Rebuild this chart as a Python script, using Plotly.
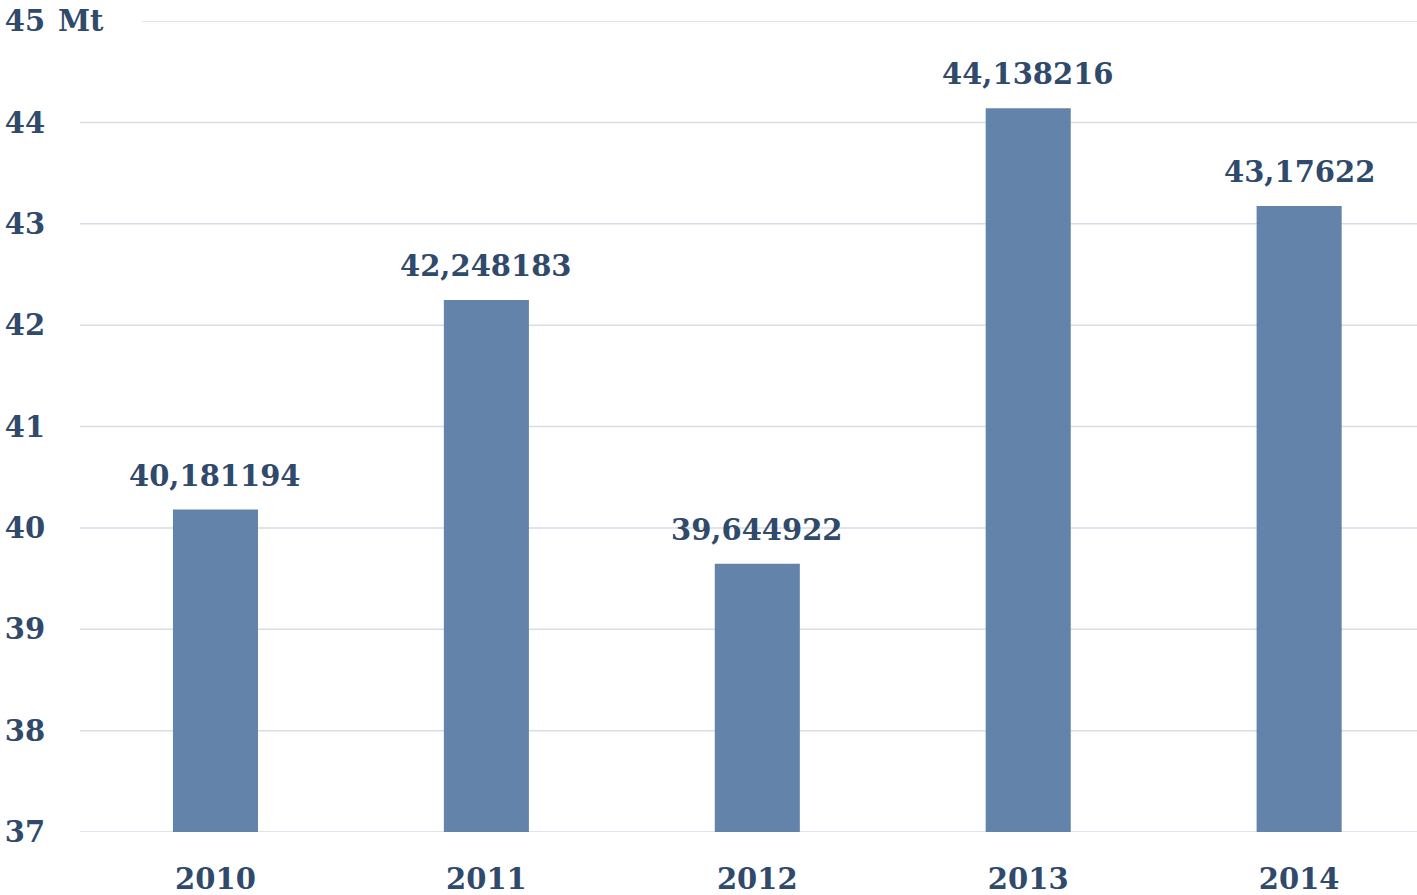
import plotly.graph_objects as go

years = ["2010", "2011", "2012", "2013", "2014"]
values = [40.181194, 42.248183, 39.644922, 44.138216, 43.17622]
value_labels = ["40,181194", "42,248183", "39,644922", "44,138216", "43,17622"]
y_ticks = [37, 38, 39, 40, 41, 42, 43, 44, 45]
unit_label = "Mt"

FONT = "DejaVu Serif"
TXT = "#2f4a6b"
BAR = "#6383ab"
GRID = "#d5dde8"

fig = go.Figure()
fig.add_trace(go.Bar(x=years, y=values, marker=dict(color=BAR, line=dict(width=0)),
                     hoverinfo="skip"))

for i, (v, lab) in enumerate(zip(values, value_labels)):
    fig.add_annotation(x=i, y=v, xref="x", yref="y", text="<b>%s</b>" % lab,
                       showarrow=False, yanchor="middle", yshift=34,
                       font=dict(family=FONT, size=29, color=TXT))

shapes = []
for t in y_ticks:
    x0 = 0.0464 if t == y_ticks[-1] else 0
    shapes.append(dict(type="line", xref="paper", yref="y", x0=x0, x1=1, y0=t, y1=t,
                       line=dict(color=GRID, width=1.5), layer="below"))
fig.update_layout(shapes=shapes)

fig.add_annotation(xref="paper", yref="y", x=0, y=y_ticks[-1], xanchor="left",
                   xshift=-24, text="<b>%s</b>" % unit_label, showarrow=False,
                   font=dict(family=FONT, size=29, color=TXT))

fig.update_layout(
    width=1417, height=895,
    margin=dict(l=80, r=0, t=21, b=63, autoexpand=False),
    paper_bgcolor="white", plot_bgcolor="white",
    showlegend=False, bargap=0.686,
    xaxis=dict(type="category", range=[-0.5, 4.435], showgrid=False, zeroline=False,
               showline=False, automargin=False,
               ticks="outside", ticklen=21, tickcolor="rgba(0,0,0,0)",
               tickfont=dict(family=FONT, size=29, color=TXT),
               tickvals=years, ticktext=["<b>%s</b>" % y for y in years]),
    yaxis=dict(range=[37, 45], showgrid=False, zeroline=False, showline=False,
               automargin=False,
               tickvals=y_ticks, ticktext=["<b>%d</b>" % t for t in y_ticks],
               ticks="outside", ticklen=28, tickcolor="rgba(0,0,0,0)",
               tickfont=dict(family=FONT, size=29, color=TXT)),
)

fig.write_html("out.html", config={"displayModeBar": False},
               post_script="document.body.style.margin='0';document.body.style.overflow='hidden';")
